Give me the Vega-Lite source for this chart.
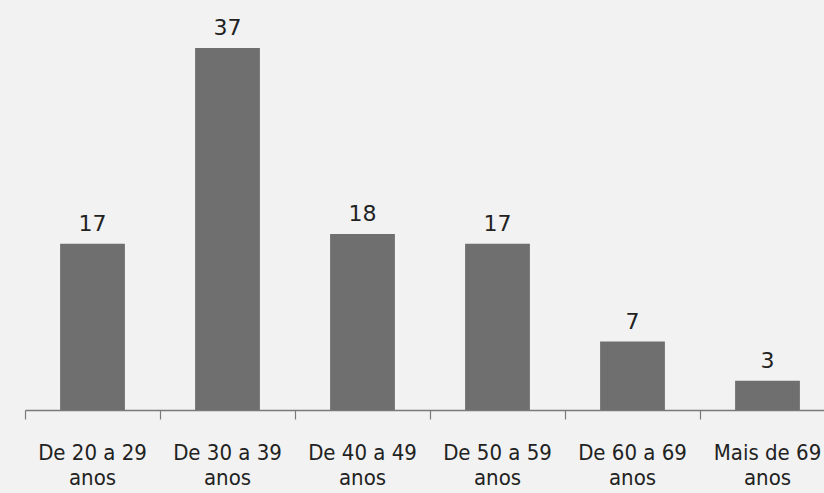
{
  "$schema": "https://vega.github.io/schema/vega-lite/v6.json",
  "width": 799,
  "height": 362,
  "autosize": {"type": "none"},
  "padding": {"left": 25, "top": 48, "right": 0, "bottom": 83},
  "background": "#f2f2f2",
  "config": {"view": {"stroke": null}},
  "data": {"values": [
    {"faixa": "De 20 a 29 anos", "n": 17},
    {"faixa": "De 30 a 39 anos", "n": 37},
    {"faixa": "De 40 a 49 anos", "n": 18},
    {"faixa": "De 50 a 59 anos", "n": 17},
    {"faixa": "De 60 a 69 anos", "n": 7},
    {"faixa": "Mais de 69 anos", "n": 3}
  ]},
  "encoding": {
    "x": {"field": "faixa", "type": "nominal", "sort": null,
      "scale": {"range": [0, 810], "paddingInner": 0.52, "paddingOuter": 0.26},
      "axis": {"title": null, "labelAngle": 0, "bandPosition": -0.54, "domainColor": "#7a7a7a", "domainWidth": 1.5,
        "tickColor": "#7a7a7a", "tickSize": 9, "tickWidth": 1.2,
        "labelFont": "DejaVu Sans Condensed", "labelFontSize": 22, "labelColor": "#222222",
        "labelPadding": 33, "labelLineHeight": 25, "labelBaseline": "middle",
        "labelExpr": "[replace(datum.value, ' anos', ''), 'anos']"}},
    "y": {"field": "n", "type": "quantitative", "scale": {"domain": [0, 37], "nice": false}, "axis": null}
  },
  "layer": [
    {"mark": {"type": "bar", "color": "#6f6f6f"}},
    {"mark": {"type": "text", "baseline": "bottom", "dy": -8, "font": "DejaVu Sans", "fontSize": 22, "color": "#222222"},
     "encoding": {"text": {"field": "n", "type": "quantitative"}}}
  ]
}
